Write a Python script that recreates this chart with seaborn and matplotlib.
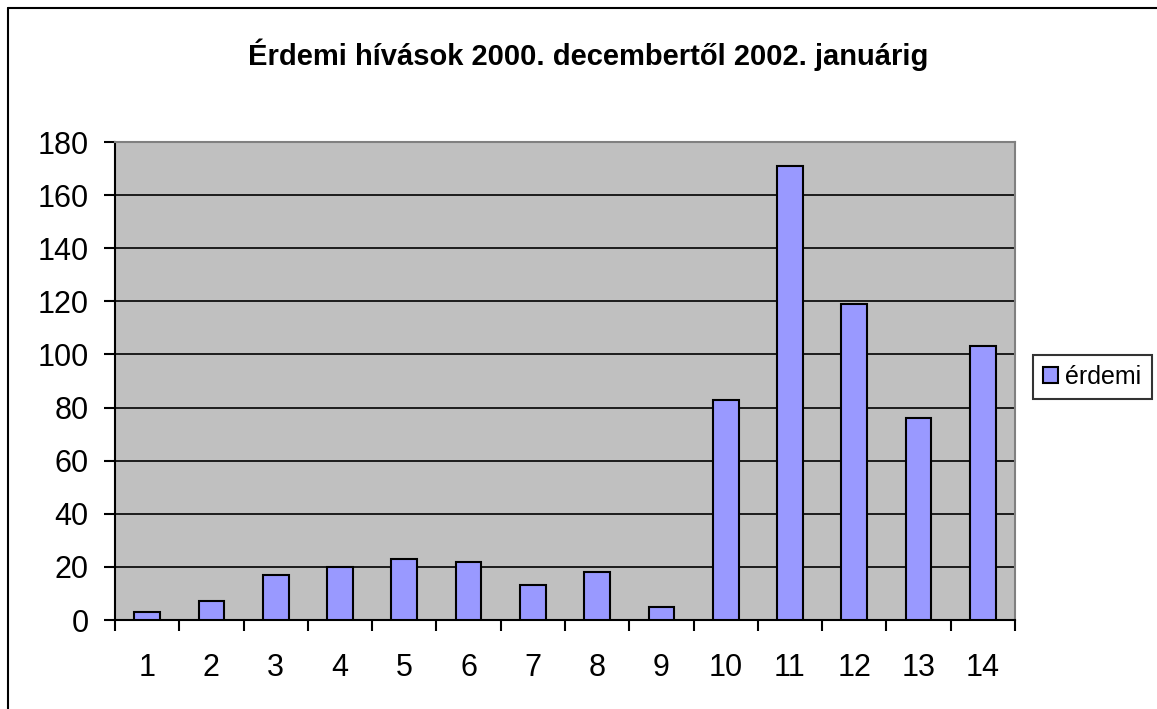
import numpy as np
import pandas as pd
import matplotlib
matplotlib.use("Agg")
import matplotlib.pyplot as plt
from matplotlib.lines import Line2D
from matplotlib.ticker import FixedLocator, NullFormatter
import seaborn as sns

# Adatok
honapok = [str(i) for i in range(1, 15)]
erdemi = [3, 7, 17, 20, 23, 22, 13, 18, 5, 83, 171, 119, 76, 103]
sorozat = "érdemi"
cim = "Érdemi hívások 2000. decembertől 2002. januárig"
y_ticks = [0, 20, 40, 60, 80, 100, 120, 140, 160, 180]

df = pd.DataFrame({"honap": honapok, "hivasok": erdemi, "sorozat": sorozat})

sns.set_style("ticks")
plt.rcParams["font.family"] = ["Liberation Sans", "DejaVu Sans"]
plt.rcParams["text.color"] = "black"
plt.rcParams["xtick.labelcolor"] = "black"
plt.rcParams["ytick.labelcolor"] = "black"

fig = plt.figure(figsize=(11.57, 7.09), dpi=100)
ax = fig.add_axes([115 / 1157, 1 - 620 / 709, 900 / 1157, 478 / 709])

sns.barplot(data=df, x="honap", y="hivasok", hue="sorozat",
            palette={sorozat: "#9999FF"}, saturation=1, edgecolor="black",
            linewidth=1.5, width=0.4, legend=False, ax=ax, zorder=3)

ax.set_facecolor("#C0C0C0")
ax.set_xlim(-0.5, len(honapok) - 0.5)
ax.set_ylim(0, 180)
ax.set_yticks(y_ticks)
ax.yaxis.grid(True, color="black", linewidth=1.2, zorder=1)
ax.set_axisbelow(True)
ax.set_xlabel("")
ax.set_ylabel("")

# x tengely: feliratok középen, osztásjelek a kategóriák határán
ax.xaxis.set_minor_locator(FixedLocator(np.arange(-0.5, len(honapok), 1.0)))
ax.xaxis.set_minor_formatter(NullFormatter())
ax.tick_params(axis="x", which="major", length=0, pad=24, labelsize=22)
ax.tick_params(axis="x", which="minor", length=8, width=1.5, direction="out", color="black")
ax.tick_params(axis="y", length=8, width=1.5, pad=11, labelsize=22, color="black")

for s in ["left", "bottom"]:
    ax.spines[s].set_color("black")
    ax.spines[s].set_linewidth(1.5)
for s in ["top", "right"]:
    ax.spines[s].set_color("#808080")
    ax.spines[s].set_linewidth(1.5)

fig.text(0.508, 1 - 55 / 709, cim, ha="center", va="center",
         fontsize=21, fontweight="bold")

leg = ax.legend([ax.containers[0]], [sorozat], loc="upper left",
                bbox_to_anchor=(1033 / 1157, 1 - 355 / 709),
                bbox_transform=fig.transFigure, fontsize=18,
                frameon=True, fancybox=False, shadow=False,
                handlelength=0.6, handleheight=0.6, handletextpad=0.3,
                borderpad=0.4, borderaxespad=0)
leg.get_frame().set_edgecolor("black")
leg.get_frame().set_linewidth(1.5)

# a diagram külső kerete (bal és felső él látszik)
fig.add_artist(Line2D([8 / 1157, 8 / 1157], [0, 1 - 8 / 709], color="black", linewidth=1.5))
fig.add_artist(Line2D([8 / 1157, 1], [1 - 8 / 709, 1 - 8 / 709], color="black", linewidth=1.5))

fig.savefig("out.png", dpi=100)
